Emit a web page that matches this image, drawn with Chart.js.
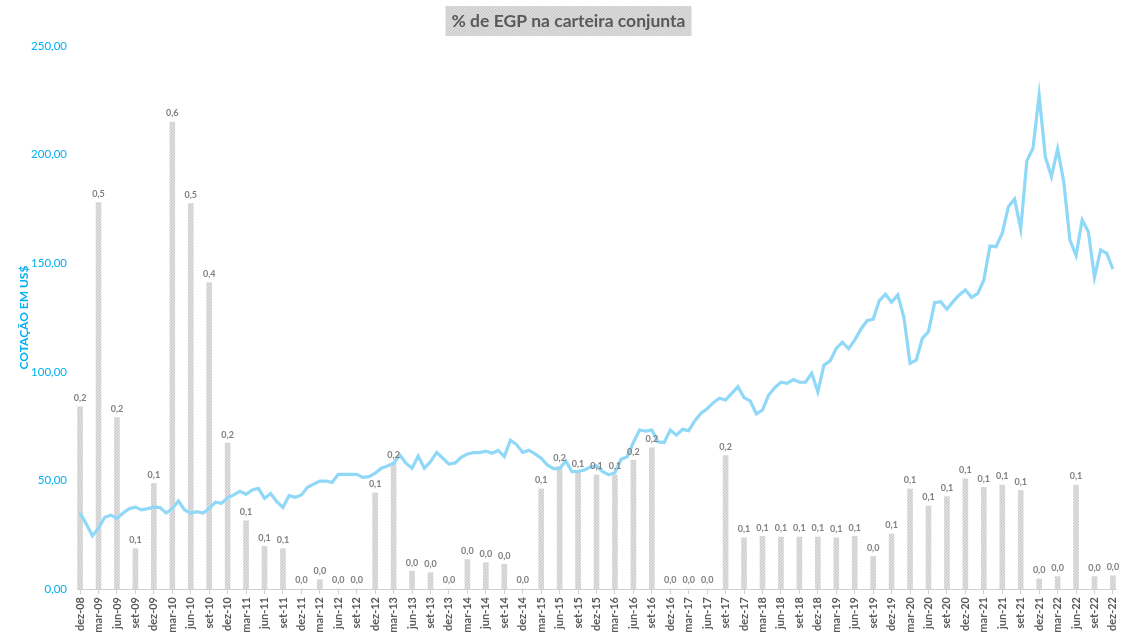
<!DOCTYPE html>
<html>
<head>
<meta charset="utf-8">
<script src="https://cdn.jsdelivr.net/npm/chart.js@4.4.1/dist/chart.umd.min.js"></script>
<style>
html, body { margin: 0; padding: 0; background: #fff; }
#wrap { width: 1136px; height: 642px; }
</style>
</head>
<body>
<div id="wrap"><canvas id="chart"></canvas></div>
<script>
const monthNames = ['jan', 'fev', 'mar', 'abr', 'mai', 'jun', 'jul', 'ago', 'set', 'out', 'nov', 'dez'];

// quarterly labels shown on the x axis
const tickLabels = [
	'dez-08', 'mar-09', 'jun-09', 'set-09', 'dez-09', 'mar-10', 'jun-10', 'set-10', 'dez-10',
	'mar-11', 'jun-11', 'set-11', 'dez-11', 'mar-12', 'jun-12', 'set-12', 'dez-12',
	'mar-13', 'jun-13', 'set-13', 'dez-13', 'mar-14', 'jun-14', 'set-14', 'dez-14',
	'mar-15', 'jun-15', 'set-15', 'dez-15', 'mar-16', 'jun-16', 'set-16', 'dez-16',
	'mar-17', 'jun-17', 'set-17', 'dez-17', 'mar-18', 'jun-18', 'set-18', 'dez-18',
	'mar-19', 'jun-19', 'set-19', 'dez-19', 'mar-20', 'jun-20', 'set-20', 'dez-20',
	'mar-21', 'jun-21', 'set-21', 'dez-21', 'mar-22', 'jun-22', 'set-22', 'dez-22'
];

// monthly quote in US$, dez-08 .. dez-22
const quote = [
	35, 30, 24.5, 28, 33, 34, 32.5, 35, 37, 37.7, 36.4, 37,
	37.7, 37.5, 35, 37, 40.5, 36.4, 35, 35.6, 35, 37, 40, 39.5,
	42, 43.3, 45, 43.6, 45.6, 46.3, 41.7, 44, 40.2, 37.6, 43, 42.2,
	43.3, 46.8, 48.3, 49.7, 49.7, 49.1, 52.8, 52.8, 52.8, 52.8, 51.4, 51.7,
	53.3, 55.6, 56.6, 57.9, 61.7, 57.9, 55.6, 61.2, 55.6, 58.6, 62.9, 60.2,
	57.5, 58, 60.6, 62.2, 62.8, 62.8, 63.5, 62.5, 63.8, 61, 68.5, 66.5,
	62.9, 63.9, 62.2, 60.2, 57.1, 55.4, 55.4, 59, 54, 54.1, 54.8, 56.1,
	56.7, 54, 52.6, 53.5, 59.7, 60.9, 67.5, 73.2, 72.7, 73.2, 67.8, 67.4,
	73.2, 70.8, 73.5, 72.9, 77.5, 80.9, 83, 85.8, 87.8, 87, 90.1, 93.1,
	88.1, 86.6, 80.6, 82.4, 89.3, 92.7, 95.2, 94.7, 96.4, 95.2, 95.2, 99.3,
	90.8, 103.1, 105, 110.8, 113.6, 110.6, 114.6, 119.6, 123.5, 124.2, 132.8, 135.7,
	132, 135.4, 125.1, 103.9, 105.4, 115.4, 118.5, 131.8, 132.3, 128.8, 132.3, 135.4,
	137.7, 134.3, 136, 142.3, 157.9, 157.6, 163.8, 176, 179.6, 165.7, 197.1, 202.9,
	227.4, 199, 189.8, 202.6, 187.5, 160.7, 153.5, 169.9, 164.5, 143.5, 156.1, 154.5,
	147.2
];

// % de EGP na carteira, one value per quarter
const share = [
	0.235, 0.498, 0.221, 0.052, 0.136, 0.602, 0.497, 0.395, 0.188,
	0.088, 0.055, 0.052, 0, 0.012, 0, 0, 0.124,
	0.162, 0.023, 0.021, 0, 0.038, 0.034, 0.032, 0,
	0.129, 0.158, 0.150, 0.147, 0.147, 0.166, 0.182, 0,
	0, 0, 0.172, 0.066, 0.068, 0.067, 0.067, 0.067,
	0.066, 0.068, 0.042, 0.071, 0.129, 0.107, 0.119, 0.142,
	0.131, 0.134, 0.127, 0.013, 0.016, 0.134, 0.016, 0.017
];

const months = [];
for (let y = 2008; y <= 2022; y++) {
	for (let m = 0; m < 12; m++) {
		if (y === 2008 && m < 11) continue;
		months.push(monthNames[m] + '-' + String(y).slice(2));
	}
}
const shareByMonth = months.map((m) => {
	const q = tickLabels.indexOf(m);
	return q >= 0 ? share[q] : null;
});

function stipple(base, dot) {
	const c = document.createElement('canvas');
	c.width = 3;
	c.height = 3;
	const g = c.getContext('2d');
	g.fillStyle = base;
	g.fillRect(0, 0, 3, 3);
	g.fillStyle = dot;
	g.fillRect(0, 0, 1, 1);
	g.fillRect(2, 1, 1, 1);
	g.fillRect(1, 2, 1, 1);
	return g.createPattern(c, 'repeat');
}

const titleBox = {
	id: 'titleBox',
	afterDraw(chart) {
		const ctx = chart.ctx;
		const text = '% de EGP na carteira conjunta';
		ctx.save();
		ctx.font = 'bold 17.5px Lato';
		const w = ctx.measureText(text).width + 12;
		const cx = 568.5;
		ctx.fillStyle = stipple('#dadada', '#c9c9c9');
		ctx.fillRect(cx - w / 2, 6, w, 30);
		ctx.fillStyle = '#595959';
		ctx.textAlign = 'center';
		ctx.textBaseline = 'middle';
		ctx.fillText(text, cx, 21);
		ctx.restore();
	}
};

const barLabels = {
	id: 'barLabels',
	afterDatasetsDraw(chart) {
		const ctx = chart.ctx;
		const meta = chart.getDatasetMeta(1);
		ctx.save();
		ctx.font = 'bold 9px Lato';
		ctx.fillStyle = '#7f7f7f';
		ctx.textAlign = 'center';
		ctx.textBaseline = 'bottom';
		meta.data.forEach((el, i) => {
			const v = shareByMonth[i];
			if (v === null) return;
			ctx.fillText(v.toFixed(1).replace('.', ','), el.x, el.y - 4);
		});
		ctx.restore();
	}
};

new Chart(document.getElementById('chart'), {
	data: {
		labels: months,
		datasets: [
			{
				type: 'line',
				data: quote,
				borderColor: '#8fd8f7',
				borderWidth: 3.2,
				pointRadius: 0,
				tension: 0,
				yAxisID: 'y',
				order: 1,
			},
			{
				type: 'bar',
				data: shareByMonth,
				backgroundColor: stipple('#dedede', '#c8c8c8'),
				barThickness: 5,
				yAxisID: 'y1',
				order: 2,
			},
		],
	},
	options: {
		responsive: true,
		maintainAspectRatio: false,
		animation: false,
		devicePixelRatio: 1,
		layout: {
			padding: { top: 46, right: 20, left: 0, bottom: 0 },
		},
		scales: {
			x: {
				offset: true,
				grid: {
					offset: false,
					drawOnChartArea: false,
					drawTicks: true,
					tickLength: 5,
					color: '#d0d0d0',
				},
				border: { color: '#d0d0d0' },
				ticks: {
					autoSkip: false,
					maxRotation: 90,
					minRotation: 90,
					padding: 3,
					color: '#595959',
					font: { family: 'Lato', size: 11, weight: 'bold' },
					callback: function (value) {
						const lab = this.getLabelForValue(value);
						return tickLabels.includes(lab) ? lab : null;
					},
				},
				afterFit: (scale) => {
					scale.height = 53;
				},
			},
			y: {
				min: 0,
				max: 250,
				grid: { display: false },
				border: { display: false },
				ticks: {
					stepSize: 50,
					padding: 2,
					color: '#00b0f0',
					font: { family: 'Lato', size: 11.5 },
					callback: (v) => v.toFixed(2).replace('.', ','),
				},
				title: {
					display: true,
					text: 'COTAÇÃO EM US$',
					color: '#00b0f0',
					font: { family: 'Lato', size: 12, weight: 'bold' },
					padding: { top: 17, bottom: 0 },
				},
				afterFit: (scale) => {
					scale.width = 77;
				},
			},
			y1: {
				display: false,
				min: 0,
				max: 0.7,
			},
		},
		plugins: {
			legend: { display: false },
			tooltip: { enabled: false },
		},
	},
	plugins: [titleBox, barLabels],
});
</script>
</body>
</html>
